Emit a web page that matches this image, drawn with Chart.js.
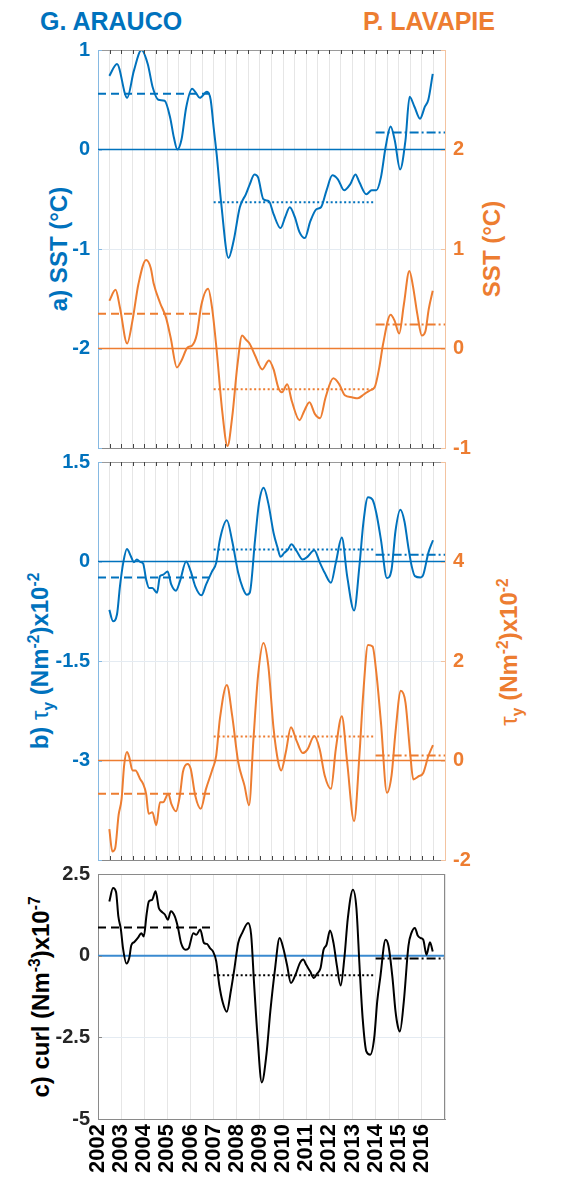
<!DOCTYPE html>
<html lang="es">
<head>
<meta charset="UTF-8">
<title>SST, tau y curl - G. Arauco / P. Lavapie</title>
<script src="https://cdn.jsdelivr.net/npm/chart.js@4"></script>
<style>
  body { margin: 0; background: #fff; }
  #page { position: relative; width: 571px; height: 1182px; overflow: hidden;
          font-family: "Liberation Sans", Arial, sans-serif; font-weight: bold; }
  canvas { position: absolute; left: 0; }
  .title { position: absolute; top: 7px; font-size: 25px; line-height: 28px; }
  .ylab { position: absolute; font-size: 24px; white-space: nowrap; line-height: 26px;
          transform: translate(-50%, -50%) rotate(-90deg); }
  .ylab sup, .ylab sub { font-size: 65%; line-height: 0; }
</style>
</head>
<body>
<div id="page">
  <div class="title" style="left:40px;color:#0072BD">G. ARAUCO</div>
  <div class="title" style="left:363px;color:#ED7D31">P. LAVAPIE</div>

  <div class="ylab" style="left:59px;top:249px;color:#0072BD">a) SST (°C)</div>
  <div class="ylab" style="left:492px;top:249px;color:#ED7D31">SST (°C)</div>
  <div class="ylab" style="left:40px;top:661px;color:#0072BD">b) <span style="font-weight:normal">τ</span><sub>y</sub> (Nm<sup>-2</sup>)x10<sup>-2</sup></div>
  <div class="ylab" style="left:509px;top:652px;color:#ED7D31"><span style="font-weight:normal">τ</span><sub>y</sub> (Nm<sup>-2</sup>)x10<sup>-2</sup></div>
  <div class="ylab" style="left:41px;top:997px;color:#000">c) curl (Nm<sup>-3</sup>)x10<sup>-7</sup></div>

  <canvas id="panelA" width="571" height="462" style="top:0px"></canvas>
  <canvas id="panelB" width="571" height="422" style="top:450px"></canvas>
  <canvas id="panelC" width="571" height="320" style="top:862px"></canvas>
</div>

<script>
// ---- datos ----
// periodos de los promedios: 2002-2007, 2007-2014, 2014-2017
const periods = [2002, 2007, 2014, 2017];

// a) SST G. Arauco (eje izq.)
const sstAraucoT = [2002.49, 2002.82, 2003.26, 2003.55, 2003.88, 2004.15, 2004.37, 2004.61, 2004.88, 2005.12,
  2005.28, 2005.43, 2005.61, 2005.81, 2006.07, 2006.23, 2006.40, 2006.71, 2006.87, 2007.0,
  2007.13, 2007.33, 2007.64, 2007.86, 2008.13, 2008.39, 2008.56, 2008.76, 2008.92, 2009.15,
  2009.39, 2009.59, 2009.89, 2010.09, 2010.29, 2010.51, 2010.71, 2010.94, 2011.18, 2011.44,
  2011.64, 2011.88, 2012.13, 2012.37, 2012.64, 2012.90, 2013.13, 2013.30, 2013.60, 2013.83,
  2014.03, 2014.23, 2014.43, 2014.65, 2014.83, 2015.06, 2015.29, 2015.47, 2015.68, 2015.92,
  2016.13, 2016.28, 2016.47];
const sstAraucoV = [0.74, 0.86, 0.52, 0.79, 1.0, 0.86, 0.62, 0.50, 0.49, 0.32,
  0.12, 0.0, 0.10, 0.42, 0.61, 0.57, 0.52, 0.58, 0.50, 0.22,
  -0.05, -0.55, -1.09, -0.92, -0.58, -0.45, -0.35, -0.25, -0.28, -0.50,
  -0.52, -0.65, -0.79, -0.68, -0.58, -0.68, -0.83, -0.89, -0.72, -0.60,
  -0.58, -0.41, -0.26, -0.30, -0.41, -0.35, -0.25, -0.33, -0.45, -0.41,
  -0.41, -0.28, 0.02, 0.23, 0.09, -0.20, 0.09, 0.53, 0.43, 0.31,
  0.43, 0.50, 0.76];
const sstAraucoMean = [0.56, -0.53, 0.17];

// a) SST P. Lavapie (eje der.)
const sstLavapieT = [2002.49, 2002.76, 2002.95, 2003.26, 2003.49, 2003.75, 2004.08, 2004.28, 2004.41, 2004.68,
  2004.94, 2005.14, 2005.41, 2005.61, 2005.87, 2006.07, 2006.27, 2006.47, 2006.76, 2006.93,
  2007.13, 2007.37, 2007.60, 2007.80, 2008.03, 2008.23, 2008.39, 2008.55, 2008.79, 2009.10,
  2009.39, 2009.59, 2009.79, 2009.95, 2010.18, 2010.38, 2010.71, 2010.91, 2011.14, 2011.38,
  2011.60, 2011.84, 2012.17, 2012.43, 2012.67, 2012.97, 2013.23, 2013.50, 2013.76, 2013.96,
  2014.16, 2014.32, 2014.65, 2014.82, 2015.02, 2015.22, 2015.46, 2015.62, 2015.80, 2016.0,
  2016.15, 2016.30, 2016.47];
const sstLavapieV = [0.48, 0.59, 0.41, 0.05, 0.28, 0.65, 0.89, 0.81, 0.65, 0.46,
  0.31, 0.11, -0.19, -0.12, 0.01, 0.03, 0.14, 0.44, 0.60, 0.41,
  -0.02, -0.63, -0.98, -0.69, -0.16, 0.13, 0.09, 0.05, -0.07, -0.21,
  -0.12, -0.21, -0.39, -0.44, -0.36, -0.53, -0.72, -0.63, -0.54, -0.66,
  -0.70, -0.49, -0.30, -0.36, -0.47, -0.49, -0.50, -0.46, -0.42, -0.39,
  -0.19, 0.04, 0.34, 0.28, 0.15, 0.44, 0.78, 0.62, 0.35, 0.13,
  0.17, 0.40, 0.58];
const sstLavapieMean = [0.35, -0.41, 0.24];

// b) tau_y G. Arauco (eje izq.)
const tauAraucoT = [2002.49, 2002.65, 2002.82, 2002.95, 2003.09, 2003.25, 2003.42, 2003.55, 2003.68, 2003.84,
  2003.95, 2004.08, 2004.21, 2004.35, 2004.55, 2004.68, 2004.81, 2005.01, 2005.17, 2005.37,
  2005.54, 2005.81, 2006.01, 2006.20, 2006.47, 2006.67, 2006.93, 2007.11, 2007.27, 2007.57,
  2007.80, 2008.06, 2008.26, 2008.43, 2008.56, 2008.79, 2008.96, 2009.16, 2009.36, 2009.59,
  2009.76, 2009.89, 2010.05, 2010.21, 2010.36, 2010.58, 2010.85, 2011.05, 2011.35, 2011.58,
  2011.80, 2012.07, 2012.28, 2012.54, 2012.77, 2013.07, 2013.30, 2013.47, 2013.67, 2013.87,
  2014.03, 2014.23, 2014.49, 2014.69, 2014.86, 2015.07, 2015.25, 2015.40, 2015.56, 2015.70,
  2015.94, 2016.06, 2016.28, 2016.48];
const tauAraucoV = [-0.73, -0.90, -0.80, -0.37, -0.02, 0.19, 0.08, -0.01, 0.03, -0.01,
  -0.03, -0.27, -0.40, -0.40, -0.47, -0.22, -0.20, -0.15, -0.35, -0.44,
  -0.30, 0.0, -0.15, -0.37, -0.51, -0.35, -0.15, -0.02, 0.33, 0.62,
  0.31, -0.17, -0.40, -0.50, -0.47, 0.33, 0.88, 1.11, 0.88, 0.43,
  0.21, 0.07, 0.13, 0.18, 0.26, 0.16, 0.03, 0.07, 0.17, -0.01,
  -0.17, -0.32, -0.02, 0.36, -0.22, -0.74, -0.07, 0.58, 0.97, 0.93,
  0.73, 0.33, -0.25, -0.12, 0.46, 0.78, 0.60, 0.25, -0.07, -0.22,
  -0.24, -0.20, 0.13, 0.32];
const tauAraucoMean = [-0.24, 0.18, 0.10];

// b) tau_y P. Lavapie (eje der.)
const tauLavapieT = [2002.49, 2002.62, 2002.74, 2002.89, 2003.02, 2003.13, 2003.25, 2003.35, 2003.49, 2003.62,
  2003.82, 2003.95, 2004.08, 2004.19, 2004.35, 2004.52, 2004.68, 2004.81, 2005.04, 2005.17,
  2005.37, 2005.54, 2005.67, 2005.87, 2006.01, 2006.20, 2006.44, 2006.67, 2006.93, 2007.11,
  2007.27, 2007.57, 2007.80, 2008.06, 2008.33, 2008.53, 2008.72, 2008.92, 2009.15, 2009.36,
  2009.59, 2009.79, 2009.92, 2010.12, 2010.34, 2010.58, 2010.85, 2011.05, 2011.35, 2011.58,
  2011.80, 2012.07, 2012.28, 2012.54, 2012.77, 2013.07, 2013.30, 2013.47, 2013.67, 2013.87,
  2014.03, 2014.23, 2014.49, 2014.69, 2014.86, 2015.09, 2015.29, 2015.49, 2015.63, 2015.85,
  2016.06, 2016.28, 2016.48];
const tauLavapieV = [-1.38, -1.83, -1.77, -1.10, -0.77, -0.10, 0.17, 0.07, -0.20, -0.20,
  -0.37, -0.47, -0.67, -1.07, -1.04, -1.30, -0.84, -0.84, -0.67, -0.87,
  -1.02, -0.70, -0.23, -0.07, -0.17, -0.70, -0.97, -0.57, -0.20, 0.10,
  0.84, 1.52, 0.90, -0.03, -0.50, -0.90, 0.43, 1.71, 2.36, 1.91,
  0.64, -0.03, -0.20, 0.17, 0.67, 0.40, 0.15, 0.22, 0.49, 0.23,
  -0.30, -0.57, 0.23, 0.89, -0.03, -1.22, 0.10, 1.37, 2.32, 2.29,
  1.77, 0.77, -0.65, -0.30, 0.57, 1.40, 1.17, 0.17, -0.38, -0.32,
  -0.25, 0.09, 0.31];
const tauLavapieMean = [-0.67, 0.48, 0.10];

// c) rotor del viento
const curlT = [2002.49, 2002.65, 2002.78, 2002.88, 2002.99, 2003.08, 2003.23, 2003.35, 2003.44, 2003.57,
  2003.74, 2003.87, 2003.98, 2004.10, 2004.20, 2004.34, 2004.49, 2004.63, 2004.73, 2004.89,
  2005.02, 2005.15, 2005.32, 2005.46, 2005.59, 2005.79, 2005.92, 2006.12, 2006.25, 2006.42,
  2006.58, 2006.71, 2006.84, 2006.97, 2007.11, 2007.24, 2007.40, 2007.57, 2007.74, 2007.90,
  2008.06, 2008.23, 2008.49, 2008.62, 2008.75, 2008.89, 2009.08, 2009.28, 2009.45, 2009.64,
  2009.85, 2010.01, 2010.17, 2010.34, 2010.54, 2010.73, 2010.87, 2011.00, 2011.17, 2011.33,
  2011.46, 2011.62, 2011.75, 2011.88, 2012.03, 2012.18, 2012.32, 2012.49, 2012.65, 2012.80,
  2013.02, 2013.17, 2013.31, 2013.44, 2013.60, 2013.77, 2013.94, 2014.07, 2014.20, 2014.43,
  2014.56, 2014.73, 2014.86, 2014.96, 2015.05, 2015.22, 2015.42, 2015.55, 2015.70, 2015.82,
  2015.95, 2016.06, 2016.20, 2016.35, 2016.47];
const curlV = [1.66, 2.07, 1.95, 1.20, 0.80, 0.23, -0.24, -0.07, 0.32, 0.42,
  0.56, 0.69, 0.59, 1.26, 1.66, 1.71, 1.97, 1.46, 1.36, 1.26,
  1.10, 1.36, 1.20, 0.85, 0.39, 0.18, 0.23, 0.69, 0.64, 0.80,
  0.39, 0.36, 0.23, 0.13, -0.17, -0.89, -1.45, -1.72, -1.09, -0.38,
  0.39, 0.69, 1.00, 0.64, -0.89, -2.42, -3.88, -3.03, -1.70, -0.48,
  0.54, 0.23, -0.28, -0.84, -0.58, -0.22, -0.12, -0.28, -0.48, -0.68,
  -0.56, -0.38, 0.18, 0.34, 0.77, 0.39, -0.28, -0.91, -0.07, 1.15,
  2.02, 1.46, -0.38, -1.91, -2.93, -3.03, -2.52, -1.40, -0.68, 0.49,
  0.29, -0.68, -1.70, -2.16, -2.32, -1.40, 0.30, 0.70, 0.85, 0.62,
  0.54, 0.49, 0.03, 0.41, 0.13];
const curlMean = [0.86, -0.60, -0.09];

// ---- estilo ----
const BLUE = '#0072BD';
const ORANGE = '#ED7D31';
const FONT = 'Liberation Sans, Arial, sans-serif';
const DASHES = [[8, 5], [2, 2.5], [9, 3, 2, 3]]; // guiones, puntos, guion-punto

function xy(t, v) {
    return t.map((x, i) => ({ x: x, y: v[i] }));
}

function serie(t, v, color, axis) {
    return { data: xy(t, v), borderColor: color, borderWidth: 2, yAxisID: axis,
             pointRadius: 0, cubicInterpolationMode: 'monotone' };
}

function ceroLinea(color, axis, ancho) {
    return { data: [{ x: periods[0], y: 0 }, { x: periods[3], y: 0 }],
             borderColor: color, borderWidth: ancho || 1.5, yAxisID: axis, pointRadius: 0 };
}

function promedios(means, color, axis) {
    return means.map((m, i) => ({
        data: [{ x: periods[i], y: m }, { x: periods[i + 1], y: m }],
        borderColor: color, borderWidth: 2, borderDash: DASHES[i],
        yAxisID: axis, pointRadius: 0
    }));
}

// borde superior / derecho y marcas hacia adentro (estilo MATLAB)
const marco = {
    id: 'marco',
    afterDraw(chart, args, o) {
        const { ctx, chartArea: a, scales } = chart;
        ctx.save();
        ctx.lineWidth = 1;
        ctx.strokeStyle = o.top;
        ctx.beginPath();
        ctx.moveTo(a.left, a.top + 0.5);
        ctx.lineTo(a.right, a.top + 0.5);
        if (o.right) {
            ctx.moveTo(a.right - 0.5, a.top);
            ctx.lineTo(a.right - 0.5, a.bottom);
        }
        ctx.stroke();
        if (o.ticks) {
            ctx.strokeStyle = '#444';
            ctx.beginPath();
            for (let v = 2002.5; v < 2017; v += 0.5) {
                const px = Math.round(scales.x.getPixelForValue(v)) + 0.5;
                ctx.moveTo(px, a.top); ctx.lineTo(px, a.top + 4);
                ctx.moveTo(px, a.bottom); ctx.lineTo(px, a.bottom - 4);
            }
            ctx.stroke();
        }
        ['yL', 'yR'].forEach(id => {
            const s = scales[id];
            if (!s) return;
            ctx.strokeStyle = s.options.border.color;
            ctx.beginPath();
            s.ticks.forEach(t => {
                const py = Math.round(s.getPixelForValue(t.value)) + 0.5;
                if (id === 'yL') { ctx.moveTo(a.left, py); ctx.lineTo(a.left + 4, py); }
                else { ctx.moveTo(a.right, py); ctx.lineTo(a.right - 4, py); }
            });
            ctx.stroke();
        });
        ctx.restore();
    }
};

function ejeY(pos, min, max, step, color, border, hidden, grid) {
    return {
        position: pos, min: min, max: max,
        ticks: { stepSize: step, color: color, padding: 8,
                 font: { family: FONT, size: 20, weight: 'bold' },
                 callback: v => (v === hidden ? '' : String(v)) },
        grid: { display: grid, drawTicks: false, color: '#e4ebf2' },
        border: { color: border, width: 1 },
        afterFit: s => { s.width = pos === 'left' ? 98 : 126; s.paddingTop = 0; s.paddingBottom = 0; }
    };
}

function ejeX(step, labels, height) {
    return {
        type: 'linear', min: 2002, max: 2017,
        ticks: { stepSize: step, display: labels, autoSkip: false,
                 minRotation: 90, maxRotation: 90, padding: 5, color: '#000',
                 font: { family: FONT, size: 22, weight: 'bold' },
                 callback: v => (v === 2017 ? '' : String(v)) },
        grid: { drawTicks: false, color: '#e6e6e6' },
        border: { color: '#8a8a8a', width: 1 },
        afterFit: s => { s.height = height; s.paddingLeft = 0; s.paddingRight = 0; }
    };
}

function crearPanel(id, datasets, scales, padding, marcoOpts) {
    new Chart(document.getElementById(id), {
        type: 'line',
        data: { datasets: datasets },
        options: {
            responsive: false,
            animation: false,
            layout: { padding: padding },
            plugins: { legend: { display: false }, tooltip: { enabled: false }, marco: marcoOpts },
            scales: scales
        },
        plugins: [marco]
    });
}

// a) SST
crearPanel('panelA', [
    serie(sstAraucoT, sstAraucoV, BLUE, 'yL'),
    serie(sstLavapieT, sstLavapieV, ORANGE, 'yR'),
    ceroLinea(BLUE, 'yL'),
    ceroLinea(ORANGE, 'yR'),
    ...promedios(sstAraucoMean, BLUE, 'yL'),
    ...promedios(sstLavapieMean, ORANGE, 'yR')
], {
    x: ejeX(0.5, false, 0),
    yL: ejeY('left', -3, 1, 1, BLUE, '#86b9e2', -3, true),
    yR: ejeY('right', -1, 3, 1, ORANGE, '#f3c3a0', 3, false)
}, { top: 50, bottom: 14, left: 0, right: 0 }, { top: '#9a9a9a', ticks: true });

// b) tau_y
crearPanel('panelB', [
    serie(tauAraucoT, tauAraucoV, BLUE, 'yL'),
    serie(tauLavapieT, tauLavapieV, ORANGE, 'yR'),
    ceroLinea(BLUE, 'yL'),
    ceroLinea(ORANGE, 'yR'),
    ...promedios(tauAraucoMean, BLUE, 'yL'),
    ...promedios(tauLavapieMean, ORANGE, 'yR')
], {
    x: ejeX(0.5, false, 0),
    yL: ejeY('left', -4.5, 1.5, 1.5, BLUE, '#86b9e2', -4.5, true),
    yR: ejeY('right', -2, 6, 2, ORANGE, '#f3c3a0', 6, false)
}, { top: 12, bottom: 12, left: 0, right: 0 }, { top: '#9a9a9a', ticks: true });

// c) curl
crearPanel('panelC', [
    serie(curlT, curlV, '#000', 'yL'),
    ceroLinea('#3a8ad0', 'yL', 2),
    ...promedios(curlMean, '#000', 'yL')
], {
    x: ejeX(1, true, 58),
    yL: ejeY('left', -5, 2.5, 2.5, '#262626', '#8a8a8a', null, true)
}, { top: 12, bottom: 5, left: 0, right: 126 }, { top: '#8a8a8a', right: true, ticks: false });
</script>
</body>
</html>
